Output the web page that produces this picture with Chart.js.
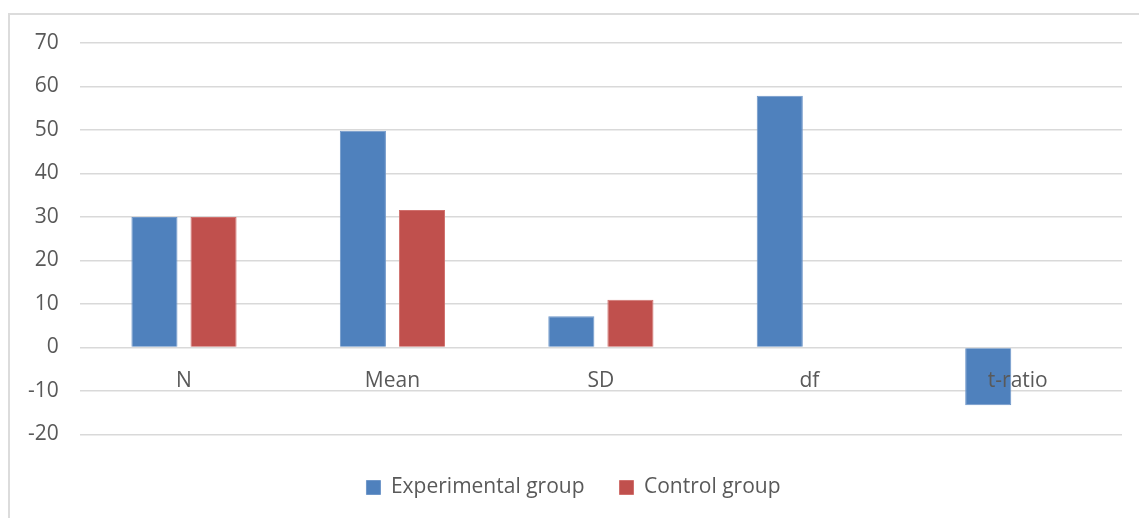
<!DOCTYPE html>
<html lang="en">
<head>
  <meta charset="UTF-8">
  <title>Experimental vs Control group</title>
  <script src="https://cdn.jsdelivr.net/npm/chart.js"></script>
  <style>
    html, body { margin: 0; padding: 0; background: #fff; overflow: hidden; }
    /* outer frame, runs off the right and bottom edge like the screenshot */
    .frame {
      position: absolute; left: 8px; top: 13px;
      width: 1160px; height: 540px;
      border: 2px solid #dcdcdc;
    }
    .chart-box { position: absolute; left: 0; top: 0; width: 1139px; height: 518px; }
  </style>
</head>
<body>
<div class="frame"></div>
<div class="chart-box">
  <canvas id="statsChart"></canvas>
</div>

<script>
  // Data
  const categories = ['N', 'Mean', 'SD', 'df', 't-ratio'];
  const experimentalGroup = [30, 49.8, 7.2, 57.9, -13.3];
  const controlGroup = [30, 31.6, 11, null, null];
  const yTicks = { min: -20, max: 70, step: 10 };

  const textColor = '#595959';
  const gridColor = '#d9d9d9';
  const fontFamily = '"Open Sans", "Noto Sans", sans-serif';
  const fontSize = 21;
  // extra left padding that nudges the legend right; the y axis gives it back
  // (kept small so the tick labels are not clipped)
  const legendShift = 18;

  const ctx = document.getElementById('statsChart').getContext('2d');

  const statsChart = new Chart(ctx, {
    type: 'bar',
    data: {
      labels: categories,
      datasets: [
        {
          label: 'Experimental group',
          data: experimentalGroup,
          backgroundColor: '#4f81bd',
          borderColor: '#6f97c9',
          borderWidth: 1
        },
        {
          label: 'Control group',
          data: controlGroup,
          backgroundColor: '#c0504d',
          borderColor: '#d0706d',
          borderWidth: 1
        }
      ]
    },
    options: {
      responsive: true,
      maintainAspectRatio: false,
      animation: false,
      categoryPercentage: 0.567,
      barPercentage: 0.78,
      layout: { padding: { top: 43, right: 17, bottom: 10, left: 7 + legendShift } },
      scales: {
        x: {
          position: { y: 0 }, // category labels sit under the zero line
          grid: { display: false, drawTicks: false },
          border: { display: false },
          ticks: {
            z: 1,             // draw labels over the bars (t-ratio)
            color: textColor,
            padding: 21,
            font: { family: fontFamily, size: fontSize }
          }
        },
        y: {
          min: yTicks.min,
          max: yTicks.max,
          afterFit: (scale) => { scale.width -= legendShift; },
          ticks: {
            stepSize: yTicks.step,
            color: textColor,
            padding: 21,
            font: { family: fontFamily, size: fontSize }
          },
          grid: { color: gridColor, lineWidth: 1.5, drawTicks: false },
          border: { display: false }
        }
      },
      plugins: {
        legend: {
          position: 'bottom',
          // empty title only used as a spacer above the legend row
          title: { display: true, text: '', font: { size: 5 }, padding: { top: 1.5, bottom: 0 } },
          labels: {
            boxWidth: 14,
            boxHeight: 14,
            padding: 35,
            color: textColor,
            font: { family: fontFamily, size: fontSize }
          }
        },
        tooltip: { enabled: false }
      }
    }
  });
</script>
</body>
</html>
